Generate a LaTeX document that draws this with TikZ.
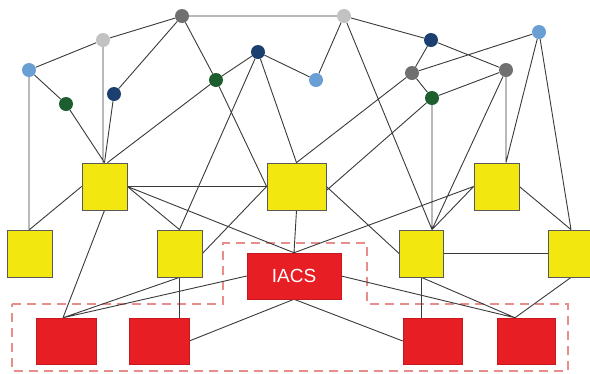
\documentclass[tikz,border=0pt]{standalone}
\usepackage{fontspec}
\setmainfont{Liberation Sans}
\usetikzlibrary{backgrounds}
\definecolor{lblue}{HTML}{6A9FD4}
\definecolor{lgray}{HTML}{C2C2C2}
\definecolor{dgray}{HTML}{707070}
\definecolor{navy}{HTML}{1B3F6E}
\definecolor{dgreen}{HTML}{1C5E2E}
\definecolor{boxyellow}{HTML}{F2E80F}
\definecolor{boxred}{HTML}{E81E25}
\definecolor{linkgray}{HTML}{3A3A3A}
\definecolor{zonepink}{HTML}{E88C8C}
\begin{document}
\begin{tikzpicture}[x=1pt,y=-1pt,
  dot/.style={circle,inner sep=0pt,minimum size=14pt},
  ybox/.style={rectangle,draw=black!65,line width=0.8pt,fill=boxyellow,inner sep=0pt,minimum width=45pt,minimum height=47pt},
  rbox/.style={rectangle,draw=boxred!85!black,line width=0.5pt,fill=boxred,inner sep=0pt,minimum width=60pt,minimum height=46pt},
  link/.style={draw=linkgray,line width=0.9pt},
  zone/.style={draw=zonepink,line width=1.3pt,dash pattern=on 9pt off 6pt}]
\useasboundingbox (0,0) rectangle (590,373);
% top dots
\node[dot,fill=lblue] (lb1) at (29,70) {};
\node[dot,fill=lgray] (lg1) at (103,40) {};
\node[dot,fill=dgray] (dg1) at (182,16) {};
\node[dot,fill=dgreen] (gn1) at (66,104) {};
\node[dot,fill=navy] (nv1) at (114,94) {};
\node[dot,fill=dgreen] (gn2) at (216,80) {};
\node[dot,fill=navy] (nv2) at (258,52) {};
\node[dot,fill=lgray] (lg2) at (344,16) {};
\node[dot,fill=navy] (nv3) at (431,40) {};
\node[dot,fill=lblue] (lb2) at (316,80) {};
\node[dot,fill=dgray] (gr2) at (412,73) {};
\node[dot,fill=dgreen] (gn3) at (432,98) {};
\node[dot,fill=dgray] (gr3) at (506,70) {};
\node[dot,fill=lblue] (lb3) at (539,32) {};
% yellow boxes
\node[ybox] (y1) at (104.5,186.5) {};
\node[ybox] (y2) at (29.5,253.5) {};
\node[ybox] (y3) at (179.5,253.5) {};
\node[ybox,minimum width=59pt] (y4) at (296.5,186.5) {};
\node[ybox] (y5) at (496.5,186.5) {};
\node[ybox,minimum width=44pt] (y6) at (421.5,253.5) {};
\node[ybox] (y7) at (571,253.5) {};
% red boxes
\node[rbox,minimum width=94pt,text=white,font=\fontsize{19}{19}\selectfont] (iacs) at (294,276) {IACS};
\node[rbox] (r1) at (66,341) {};
\node[rbox] (r2) at (159,341) {};
\node[rbox,minimum width=59pt] (r3) at (432.5,341) {};
\node[rbox,minimum width=58pt] (r4) at (526,341) {};
% attachment points
\coordinate (r1t) at ([xshift=-3pt]r1.north);
\coordinate (r4t) at ([xshift=-11pt]r4.north);
\coordinate (y6t) at ([xshift=10.5pt]y6.north);
\coordinate (y5t) at ([xshift=9.5pt]y5.north);
\begin{pgfonlayer}{background}
\fill[white] (0,0) rectangle (590,373);
\draw[zone] (12,304) -- (223,304) -- (223,243) -- (367,243) -- (367,304) -- (568,304) -- (568,371) -- (12,371) -- cycle;
\path[link]
  (lb1) -- (lg1)
  (lg1) -- (dg1)
  (dg1) -- (lg2)
  (lb1) -- (gn1)
  (lb1.center) -- (lb1.center |- y2.north)
  (gn1) -- (y1.north)
  (lg1.center) -- (lg1.center |- y1.north)
  (nv1) -- (dg1)
  (nv1) -- (y1.north)
  (dg1) -- (gn2)
  (gn2) -- ([xshift=3pt]y1.north)
  (gn2) -- (nv2)
  (gn2) -- (y4.west)
  (nv2) -- (y3.north)
  (nv2) -- (y4.north)
  (nv2) -- (lb2)
  (lg2) -- (lb2)
  (lg2) -- (nv3)
  (lg2) -- (y6t)
  (nv3) -- (gr2)
  (nv3) -- (gr3)
  (gr2) -- (gn3)
  (gr2) -- (lb3)
  (gr2) -- (y4.north)
  (gn3) -- ([yshift=-4pt]y4.east)
  (gn3.center) -- (y6t)
  (gn3) -- (gr3)
  (gr3) -- (y6t)
  (gr3.center) -- (y5t)
  (lb3) -- (y5t)
  (lb3) -- (y7.north)
  (y5.west) -- (iacs.north)
  (y5.west) -- (y6t)
  (y5.east) -- (y7.north)
  (y6.east) -- (y7.west)
  (y4.east) -- (y6.west)
  (y6.south) -- (y6.south |- r3.north)
  (y6.south) -- (r4t)
  (y7.south) -- (r4t)
  (iacs.east) -- (r4t)
  (iacs.south) -- (r3.west)
  (iacs.south) -- (r2.east)
  (iacs.west) -- (r1t)
  (y3.south) -- (r1t)
  (y3.south) -- (y3.south |- r2.north)
  (y1.south) -- (r1t)
  (y1.west) -- (y2.north)
  (y1.east) -- (y4.west)
  (y1.east) -- (y3.north)
  (y1.east) -- (iacs.north)
  (y3.east) -- (y4.west)
  (y4.south) -- (iacs.north);
\end{pgfonlayer}
\end{tikzpicture}
\end{document}
